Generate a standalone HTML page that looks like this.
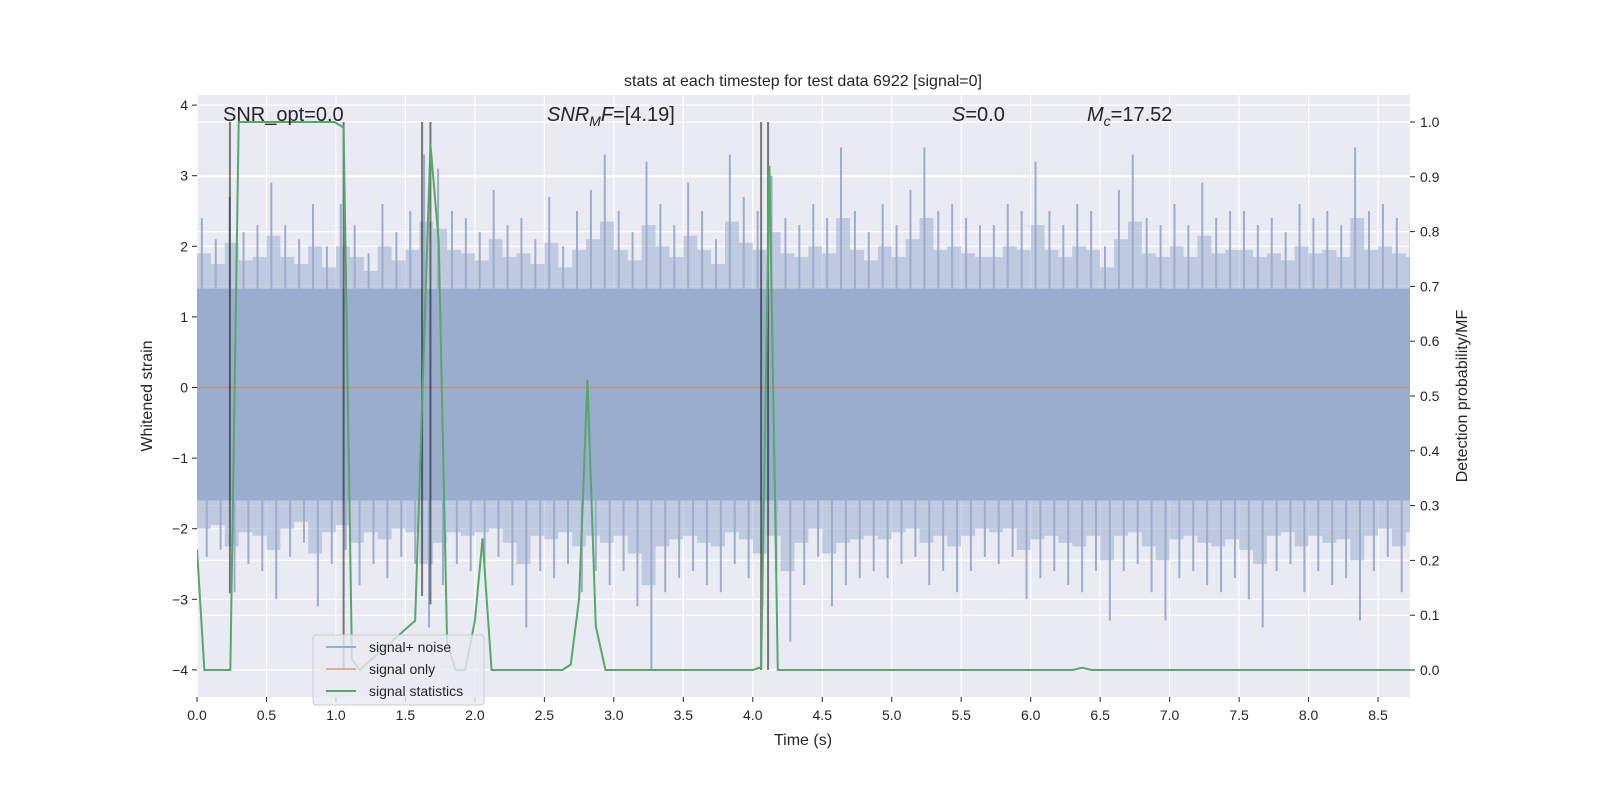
<!DOCTYPE html>
<html><head><meta charset="utf-8"><style>
html,body{margin:0;padding:0;background:#fff;width:1600px;height:800px;overflow:hidden;}
#wrap{position:relative;width:1600px;height:800px;overflow:hidden;}
svg{display:block;font-family:"Liberation Sans","DejaVu Sans",sans-serif;position:absolute;left:0;top:0;}
</style></head><body>
<div id="wrap">
<svg id="chart" width="1600" height="800" viewBox="0 0 1600 800"></svg>
<svg width="1600" height="800" viewBox="0 0 1600 800" font-family="Liberation Sans, DejaVu Sans, sans-serif">
<text x="803" y="86" text-anchor="middle" font-size="16" fill="#262626">stats at each timestep for test data 6922 [signal=0]</text>
<text x="803" y="745" text-anchor="middle" font-size="16" fill="#262626">Time (s)</text>
<text transform="translate(152,396) rotate(-90)" text-anchor="middle" font-size="16" fill="#262626">Whitened strain</text>
<text transform="translate(1467,396) rotate(-90)" text-anchor="middle" font-size="16" fill="#262626">Detection probability/MF</text>
<text x="223" y="121" font-size="20" fill="#262626">SNR_opt=0.0</text>
<text x="547" y="121" font-size="20" fill="#262626"><tspan font-style="italic">SNR</tspan><tspan font-style="italic" font-size="14" dy="5">M</tspan><tspan font-style="italic" dy="-5">F</tspan>=[4.19]</text>
<text x="952" y="121" font-size="20" fill="#262626"><tspan font-style="italic">S</tspan>=0.0</text>
<text x="1087" y="121" font-size="20" fill="#262626"><tspan font-style="italic">M</tspan><tspan font-style="italic" font-size="14" dy="5">c</tspan><tspan dy="-5">=17.52</tspan></text>
<g>
<rect x="313" y="635" width="171" height="70" rx="3" fill="#eaeaf2" fill-opacity="0.8" stroke="#cccccc"/>
<line x1="326" x2="356" y1="647" y2="647" stroke="#9aadcf" stroke-width="2"/>
<text x="369" y="652" font-size="14" fill="#262626">signal+ noise</text>
<line x1="326" x2="356" y1="669" y2="669" stroke="#dd8452" stroke-opacity="0.6" stroke-width="2"/>
<text x="369" y="674" font-size="14" fill="#262626">signal only</text>
<line x1="326" x2="356" y1="691" y2="691" stroke="#55a868" stroke-width="2"/>
<text x="369" y="696" font-size="14" fill="#262626">signal statistics</text>
</g>
</svg>
</div>
<script>
const xTicks=[0,0.5,1,1.5,2,2.5,3,3.5,4,4.5,5,5.5,6,6.5,7,7.5,8,8.5];
const xTickLabels=["0.0","0.5","1.0","1.5","2.0","2.5","3.0","3.5","4.0","4.5","5.0","5.5","6.0","6.5","7.0","7.5","8.0","8.5"];
const yTicks=[-4,-3,-2,-1,0,1,2,3,4];
const y2Ticks=[0,0.1,0.2,0.3,0.4,0.5,0.6,0.7,0.8,0.9,1.0];
const noiseUpper=[2.4,2.1,2.7,2.2,2.3,2.9,2.3,2.1,2.6,2.0,2.6,2.3,1.9,2.6,2.2,2.5,3.3,3.1,2.5,2.4,2.2,2.8,2.3,2.4,2.1,2.7,2.0,2.5,2.8,3.3,2.5,2.2,3.2,2.6,2.3,2.9,2.5,2.1,3.3,2.7,2.5,3.0,2.4,2.3,2.6,2.4,3.4,2.5,2.2,2.6,2.3,2.8,3.4,2.5,2.6,2.4,2.3,2.3,2.6,2.5,3.2,2.5,2.3,2.6,2.5,2.0,2.8,3.3,2.4,2.3,2.6,2.3,2.9,2.4,2.5,2.5,2.3,2.4,2.2,2.6,2.4,2.5,2.3,3.4,2.5,2.6,2.4,2.3];
const noiseLower=[-2.4,-2.3,-2.9,-2.5,-2.6,-3.0,-2.4,-2.2,-3.1,-2.5,-2.3,-2.8,-2.5,-2.7,-2.4,-2.5,-3.4,-2.8,-2.5,-2.6,-2.5,-2.4,-2.8,-3.4,-2.6,-2.7,-2.5,-2.9,-2.6,-2.8,-2.6,-3.1,-4.0,-2.9,-2.7,-2.6,-2.8,-2.9,-2.5,-2.7,-3.1,-2.6,-3.6,-2.8,-2.4,-3.1,-2.8,-2.7,-2.6,-2.7,-2.5,-2.4,-2.8,-2.6,-2.9,-2.6,-2.4,-2.5,-2.4,-3.0,-2.7,-2.6,-2.8,-2.9,-2.6,-3.3,-2.6,-2.5,-2.9,-3.3,-2.7,-2.6,-2.8,-2.9,-2.7,-3.0,-3.4,-2.6,-2.5,-2.9,-2.6,-2.8,-2.7,-3.3,-2.6,-2.4,-2.9,-2.5];
const noiseBin=0.1;
const coreUpper=1.4, coreLower=-1.6;
const statT=[0,0.053,0.24,0.30,0.99,1.055,1.115,1.17,1.57,1.68,1.74,1.80,1.86,1.93,2.0,2.055,2.12,2.63,2.69,2.75,2.81,2.87,2.94,4.0,4.06,4.12,4.18,6.30,6.37,6.44,8.73];
const statP=[0.22,0,0,1.0,1.0,0.99,0.02,0,0.09,0.96,0.78,0.05,0,0,0.09,0.24,0,0,0.01,0.13,0.53,0.08,0,0,0.005,0.92,0,0,0.004,0,0];
const markerT=[0.237,1.055,1.62,1.68,4.06,4.11];
const markerBottom=[0.14,0.0,0.135,0.12,0.0,0.0];

const L=197,R=1410,T=95,B=697;
const xMin=0,xMax=8.73;
const X=t=>L+(t-xMin)/(xMax-xMin)*(R-L);
const Y=v=>387.5-v*70.6;
const Y2=p=>670-p*548;
const NS="http://www.w3.org/2000/svg";
const svg=document.getElementById('chart');
function mk(tag,attrs,parent){const e=document.createElementNS(NS,tag);for(const k in attrs)e.setAttribute(k,attrs[k]);(parent||svg).appendChild(e);return e;}

const bg=mk('rect',{x:L,y:T,width:R-L,height:B-T,fill:'#eaeaf2'});


const grid=mk('g',{stroke:'#fff','stroke-width':1.2});


xTicks.forEach(t=>mk('line',{x1:X(t),x2:X(t),y1:T,y2:B},grid));
yTicks.forEach(v=>mk('line',{x1:L,x2:R,y1:Y(v),y2:Y(v)},grid));
y2Ticks.forEach(p=>mk('line',{x1:L,x2:R,y1:Y2(p),y2:Y2(p)},grid));

const clip=mk('clipPath',{id:'pc'});mk('rect',{x:L,y:T,width:R-L,height:B-T},clip);
const plot=mk('g',{'clip-path':'url(#pc)'});
const noise=mk('g',{fill:'#9aadcf',stroke:'#9aadcf'},plot);


mk('rect',{x:X(0),y:Y(coreUpper),width:X(xMax)-X(0),height:Y(coreLower)-Y(coreUpper),stroke:'none'},noise);
noiseUpper.forEach((u,i)=>{
  const t0=i*noiseBin, x0=X(t0), x1=X(t0+noiseBin), w=x1-x0;
  const lo=noiseLower[i];
  const su=(u+coreUpper)/2, sl=(lo+coreLower)/2;
  mk('rect',{x:x0,y:Y(su),width:w,height:Y(coreUpper)-Y(su),stroke:'none','fill-opacity':0.55},noise);
  mk('rect',{x:x0,y:Y(coreLower),width:w,height:Y(sl)-Y(coreLower),stroke:'none','fill-opacity':0.55},noise);
  mk('line',{x1:x0+w*0.35,x2:x0+w*0.35,y1:Y(u),y2:Y(coreUpper),'stroke-width':2},noise);
  mk('line',{x1:x0+w*0.7,x2:x0+w*0.7,y1:Y(lo),y2:Y(coreLower),'stroke-width':2},noise);
});
const sig=mk('line',{x1:L,x2:R,y1:Y(0),y2:Y(0),stroke:'#dd8452','stroke-opacity':0.7,'stroke-width':1.5},plot);


const mg=mk('g',{stroke:'#000','stroke-opacity':0.5,'stroke-width':2},plot);


markerT.forEach((t,i)=>mk('line',{x1:X(t),x2:X(t),y1:Y2(1.0),y2:Y2(markerBottom[i])},mg));
const stat=mk('polyline',{points:statT.map((t,i)=>X(t)+','+Y2(statP[i])).join(' '),fill:'none',stroke:'#55a868','stroke-width':2},plot);



const ax=mk('g',{fill:'#262626','font-size':14});


xTicks.forEach((t,i)=>{mk('line',{x1:X(t),x2:X(t),y1:B,y2:B+5,stroke:'#262626'},ax);const tx=mk('text',{x:X(t),y:B+23,'text-anchor':'middle'},ax);tx.textContent=xTickLabels[i];});
yTicks.forEach(v=>{mk('line',{x1:L-5,x2:L,y1:Y(v),y2:Y(v),stroke:'#262626'},ax);const tx=mk('text',{x:L-9,y:Y(v)+5,'text-anchor':'end'},ax);tx.textContent=v<0?'\u2212'+(-v):String(v);});
y2Ticks.forEach(p=>{mk('line',{x1:R,x2:R+5,y1:Y2(p),y2:Y2(p),stroke:'#262626'},ax);const tx=mk('text',{x:R+10,y:Y2(p)+5},ax);tx.textContent=p.toFixed(1);});
</script>
</body></html>
